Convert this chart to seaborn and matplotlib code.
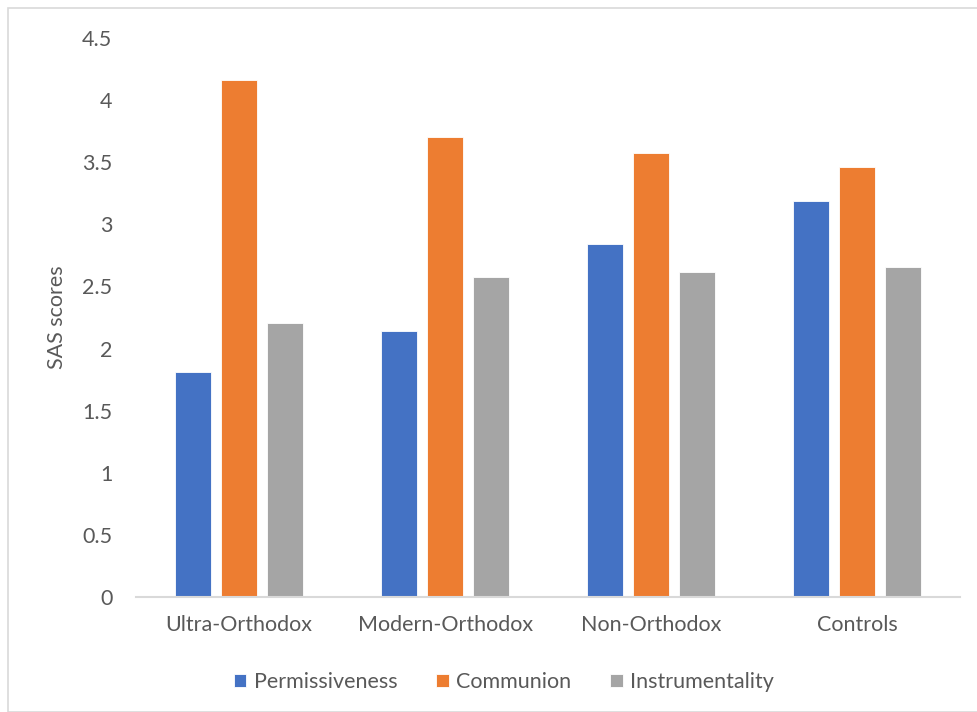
import matplotlib
matplotlib.use("Agg")
import matplotlib.pyplot as plt
import seaborn as sns
import pandas as pd
from matplotlib.patches import Rectangle

# SAS subscale means by group
groups = ["Ultra-Orthodox", "Modern-Orthodox", "Non-Orthodox", "Controls"]
permissiveness = [1.81, 2.14, 2.84, 3.19]
communion = [4.16, 3.70, 3.57, 3.46]
instrumentality = [2.21, 2.58, 2.62, 2.66]
series_names = ["Permissiveness", "Communion", "Instrumentality"]
y_ticks = [0, 0.5, 1, 1.5, 2, 2.5, 3, 3.5, 4, 4.5]

df = pd.DataFrame({
    "group": groups * 3,
    "scale": [s for s in series_names for _ in groups],
    "score": permissiveness + communion + instrumentality,
})

sns.set_theme(style="white")
plt.rcParams["font.family"] = ["Lato", "DejaVu Sans"]
text_color = "#595959"
fs = 15.5

fig = plt.figure(figsize=(9.78, 7.12), dpi=100)
ax = fig.add_axes([0.139, 0.161, 0.843, 0.786])

palette = {"Permissiveness": "#4472C4", "Communion": "#ED7D31", "Instrumentality": "#A5A5A5"}
sns.barplot(data=df, x="group", y="score", hue="scale", order=groups,
            hue_order=series_names, palette=palette, width=0.67, gap=0.215,
            saturation=1, edgecolor="white", linewidth=0.6, ax=ax, legend=True)

ax.set_xlim(-0.5, 3.5)
ax.set_ylim(0, 4.5)
ax.set_yticks(y_ticks)
ax.set_yticklabels([f"{t:g}" for t in y_ticks])
ax.set_xlabel("")
ax.set_ylabel("SAS scores", fontsize=fs, color=text_color, labelpad=11)

for side in ["top", "right", "left"]:
    ax.spines[side].set_visible(False)
ax.spines["bottom"].set_color("#D9D9D9")
ax.spines["bottom"].set_linewidth(1.5)
ax.tick_params(axis="both", length=0, colors=text_color, labelsize=fs)
ax.tick_params(axis="y", pad=17)
ax.tick_params(axis="x", pad=13)

handles, labels = ax.get_legend_handles_labels()
ax.legend(handles, labels, loc="center", bbox_to_anchor=(0.515, 0.042),
          bbox_transform=fig.transFigure, ncol=3, frameon=False,
          fontsize=fs, labelcolor=text_color, handlelength=0.6,
          handleheight=0.6, handletextpad=0.33, columnspacing=1.8)

# chart border
fig.patches.append(Rectangle((8 / 978, 0), 1.2, 1 - 8 / 712, transform=fig.transFigure,
                             fill=False, edgecolor="#D9D9D9", linewidth=1.2))

fig.savefig("out.png", dpi=100)
